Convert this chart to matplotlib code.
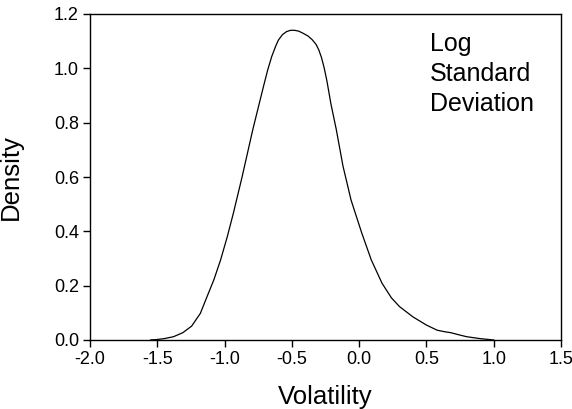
import matplotlib
matplotlib.use("Agg")
import matplotlib.pyplot as plt

# Density curve
volatility = [-1.55, -1.50, -1.45, -1.38, -1.31, -1.245, -1.18, -1.13, -1.08, -1.03,
              -0.98, -0.935, -0.87, -0.79, -0.71, -0.68, -0.65, -0.62, -0.60, -0.57,
              -0.54, -0.51, -0.48, -0.45, -0.42, -0.38, -0.35, -0.32, -0.30, -0.28,
              -0.26, -0.24, -0.21, -0.17, -0.12, -0.06, 0.02, 0.09, 0.17, 0.24,
              0.30, 0.40, 0.50, 0.58, 0.64, 0.68, 0.75, 0.80, 0.90, 1.00]
density = [0.0, 0.002, 0.005, 0.012, 0.027, 0.051, 0.098, 0.160, 0.221, 0.294,
           0.380, 0.466, 0.600, 0.775, 0.935, 0.993, 1.043, 1.082, 1.104, 1.124,
           1.135, 1.140, 1.140, 1.137, 1.130, 1.119, 1.106, 1.088, 1.068, 1.040,
           1.002, 0.955, 0.870, 0.775, 0.640, 0.515, 0.393, 0.295, 0.209, 0.155,
           0.123, 0.085, 0.055, 0.036, 0.030, 0.027, 0.018, 0.012, 0.005, 0.0]

x_ticks = [-2.0, -1.5, -1.0, -0.5, 0.0, 0.5, 1.0, 1.5]
y_ticks = [0.0, 0.2, 0.4, 0.6, 0.8, 1.0, 1.2]
annotation = "Log\nStandard\nDeviation"

plt.rcParams['font.family'] = ['Liberation Sans', 'DejaVu Sans']

fig = plt.figure(figsize=(5.72, 4.09), dpi=100)
ax = fig.add_axes([90/572, (409-340)/409, (561-90)/572, (340-14)/409])

ax.plot(volatility, density, color='black', lw=0.9)

ax.set_xlim(-2.0, 1.5)
ax.set_ylim(0.0, 1.2)
ax.set_xticks(x_ticks)
ax.set_xticklabels([f"{v:.1f}" for v in x_ticks])
ax.set_yticks(y_ticks)
ax.set_yticklabels([f"{v:.1f}" for v in y_ticks])
ax.tick_params(axis='both', which='both', direction='out', length=5, width=1,
               labelsize=13, colors='black', pad=3, top=False, right=False)
for s in ax.spines.values():
    s.set_linewidth(1.0)
    s.set_color('black')

ax.set_xlabel("Volatility", fontsize=18.5, labelpad=12)
ax.set_ylabel("Density", fontsize=18.5, labelpad=22)

ax.text(0.526, 1.134, annotation, fontsize=18, ha='left', va='top', linespacing=1.32)

fig.savefig("out.png", dpi=100)
